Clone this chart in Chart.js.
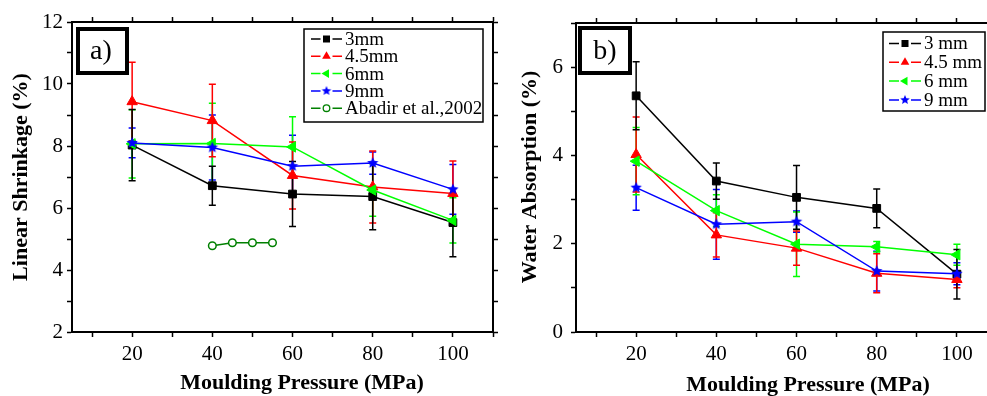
<!DOCTYPE html>
<html><head><meta charset="utf-8">
<script src="https://cdn.jsdelivr.net/npm/chart.js@4/dist/chart.umd.min.js"></script>
<style>
html,body{margin:0;padding:0;background:#fff;overflow:hidden;width:987px;height:396px;}
#wrapA{position:absolute;left:0;top:0;width:500px;height:396px;}
#wrapB{position:absolute;left:500px;top:0;width:510px;height:396px;}
canvas{display:block;}
</style></head><body>
<div id="wrapA"><canvas id="chartA" width="500" height="396"></canvas></div>
<div id="wrapB"><canvas id="chartB" width="510" height="396"></canvas></div>
<script>
// ---------- data ----------
const pressures = [20, 40, 60, 80, 100];
const xTickLabels = [20, 40, 60, 80, 100];
const yTickLabelsA = [2, 4, 6, 8, 10, 12];
const yTickLabelsB = [0, 2, 4, 6];
const namesA = ['3mm', '4.5mm', '6mm', '9mm', 'Abadir et al.,2002'];
const namesB = ['3 mm', '4.5 mm', '6 mm', '9 mm'];

// (a) Linear shrinkage (%)
const shrink3 = [8.03, 6.72, 6.45, 6.37, 5.53];
const shrink3Err = [1.15, 0.63, 1.05, 1.07, 1.1];
const shrink45 = [9.43, 8.82, 7.05, 6.68, 6.47];
const shrink45Err = [1.27, 1.17, 1.08, 1.16, 1.05];
const shrink6 = [8.07, 8.08, 7.97, 6.58, 5.6];
const shrink6Err = [1.1, 1.3, 0.97, 0.85, 0.73];
const shrink9 = [8.1, 7.95, 7.35, 7.45, 6.6];
const shrink9Err = [0.48, 1.05, 1.0, 0.36, 0.8];
const abadirPressure = [40, 45, 50, 55];
const abadirShrink = [4.78, 4.88, 4.88, 4.88];

// (b) Water absorption (%)
const water3 = [5.35, 3.42, 3.05, 2.8, 1.31];
const water3Err = [0.77, 0.41, 0.72, 0.44, 0.56];
const water45 = [4.02, 2.2, 1.9, 1.33, 1.19];
const water45Err = [0.85, 0.5, 0.39, 0.44, 0.19];
const water6 = [3.87, 2.75, 1.99, 1.93, 1.75];
const water6Err = [0.76, 0.36, 0.73, 0.12, 0.24];
const water9 = [3.27, 2.44, 2.5, 1.38, 1.32];
const water9Err = [0.51, 0.79, 0.24, 0.45, 0.25];

// ---------- styles ----------
const FONT = "'Liberation Serif','Times New Roman',serif";
const COLORS = ['#000000', '#FF0000', '#00FF00', '#0000FF', '#008000'];

function makeStar(color, R) {
  const s = Math.ceil(R * 2 + 2);
  const c = document.createElement('canvas'); c.width = s; c.height = s;
  const g = c.getContext('2d'); g.fillStyle = color; g.beginPath();
  for (let i = 0; i < 10; i++) {
    const r = (i % 2) ? R * 0.45 : R;
    const a = -Math.PI / 2 + i * Math.PI / 5;
    g.lineTo(s / 2 + r * Math.cos(a), s / 2 + r * Math.sin(a));
  }
  g.closePath(); g.fill();
  return c;
}
const starBig = makeStar('#0000FF', 6);
const starSmall = makeStar('#0000FF', 5);

function pts(xs, ys) { return xs.map((x, i) => ({x: x, y: ys[i]})); }

function series(label, xs, ys, errs, idx, style) {
  const ds = {
    label: label, data: pts(xs, ys), errors: errs,
    borderColor: COLORS[idx], backgroundColor: COLORS[idx],
    pointBorderColor: COLORS[idx], pointBackgroundColor: COLORS[idx],
    borderWidth: 1.5, tension: 0, fill: false, order: 10 - idx,
    pointRadius: 5.5, pointBorderWidth: 1, pointRotation: 0
  };
  if (style === 'rect') { ds.pointStyle = 'rect'; ds.pointRadius = 5.5; }
  if (style === 'tri') { ds.pointStyle = 'triangle'; ds.pointRadius = 6; }
  if (style === 'ltri') { ds.pointStyle = 'triangle'; ds.pointRadius = 6; ds.pointRotation = -90; }
  if (style === 'star') { ds.pointStyle = starBig; ds.pointRadius = 6; }
  if (style === 'circ') { ds.pointStyle = 'circle'; ds.pointRadius = 3.8; ds.pointBackgroundColor = '#ffffff'; ds.pointBorderWidth = 1.5; }
  ds._mk = style;
  return ds;
}

// ---------- plugins ----------
const errorBars = {
  id: 'errorBars',
  beforeDatasetsDraw(chart) {
    const ctx = chart.ctx, ys = chart.scales.y;
    for (let i = chart.data.datasets.length - 1; i >= 0; i--) {
      const ds = chart.data.datasets[i];
      if (!ds.errors) continue;
      const meta = chart.getDatasetMeta(i);
      ctx.save(); ctx.strokeStyle = ds.borderColor; ctx.lineWidth = 1.5;
      meta.data.forEach((pt, j) => {
        const v = ds.data[j].y, e = ds.errors[j];
        const yT = ys.getPixelForValue(v + e), yB = ys.getPixelForValue(v - e);
        ctx.beginPath();
        ctx.moveTo(pt.x, yT); ctx.lineTo(pt.x, yB);
        ctx.moveTo(pt.x - 3.5, yT); ctx.lineTo(pt.x + 3.5, yT);
        ctx.moveTo(pt.x - 3.5, yB); ctx.lineTo(pt.x + 3.5, yB);
        ctx.stroke();
      });
      ctx.restore();
    }
  }
};

function drawMarker(ctx, mk, color, x, y) {
  ctx.save();
  ctx.fillStyle = color; ctx.strokeStyle = color; ctx.lineWidth = 1.3;
  if (mk === 'rect') { ctx.fillRect(x - 3.5, y - 3.5, 7, 7); }
  else if (mk === 'tri') { const r = 5; ctx.beginPath(); ctx.moveTo(x, y - r); ctx.lineTo(x + r * 0.866, y + r * 0.5); ctx.lineTo(x - r * 0.866, y + r * 0.5); ctx.closePath(); ctx.fill(); }
  else if (mk === 'ltri') { const r = 5; ctx.beginPath(); ctx.moveTo(x - r, y); ctx.lineTo(x + r * 0.5, y - r * 0.866); ctx.lineTo(x + r * 0.5, y + r * 0.866); ctx.closePath(); ctx.fill(); }
  else if (mk === 'star') { ctx.drawImage(starSmall, x - starSmall.width / 2, y - starSmall.height / 2); }
  else if (mk === 'circ') { ctx.beginPath(); ctx.arc(x, y, 3.3, 0, Math.PI * 2); ctx.fillStyle = '#fff'; ctx.fill(); ctx.stroke(); }
  ctx.restore();
}

function makeDecor(cfg) {
  return {
    id: 'decor',
    afterDraw(chart) {
      const ctx = chart.ctx;
      ctx.save();
      // panel label box
      const b = cfg.labelBox;
      ctx.fillStyle = '#fff'; ctx.fillRect(b[0], b[1], b[2], b[3]);
      ctx.lineWidth = 4; ctx.strokeStyle = '#000'; ctx.strokeRect(b[0], b[1], b[2], b[3]);
      ctx.fillStyle = '#000'; ctx.font = '28px ' + FONT; ctx.textAlign = 'center'; ctx.textBaseline = 'middle';
      ctx.fillText(cfg.label, cfg.labelPos[0], cfg.labelPos[1]);
      // legend
      const L = cfg.legend;
      ctx.fillStyle = '#fff'; ctx.fillRect(L.box[0], L.box[1], L.box[2], L.box[3]);
      ctx.lineWidth = 1.5; ctx.strokeStyle = '#000'; ctx.strokeRect(L.box[0], L.box[1], L.box[2], L.box[3]);
      ctx.font = L.font + 'px ' + FONT; ctx.textAlign = 'left'; ctx.textBaseline = 'middle';
      chart.data.datasets.forEach((ds, i) => {
        const y = L.y0 + i * L.step;
        const cx = (L.x0 + L.x1) / 2;
        ctx.strokeStyle = ds.borderColor; ctx.lineWidth = 1.5;
        ctx.beginPath(); ctx.moveTo(L.x0, y); ctx.lineTo(cx - 6, y); ctx.moveTo(cx + 6, y); ctx.lineTo(L.x1, y); ctx.stroke();
        drawMarker(ctx, ds._mk, ds.borderColor, cx, y);
        ctx.fillStyle = '#000';
        ctx.fillText(ds.label, L.tx, y + 1);
      });
      // axis titles
      ctx.fillStyle = '#000'; ctx.font = 'bold 22px ' + FONT; ctx.textAlign = 'center'; ctx.textBaseline = 'middle';
      ctx.fillText(cfg.xTitle, cfg.xTitlePos[0], cfg.xTitlePos[1]);
      ctx.translate(cfg.yTitlePos[0], cfg.yTitlePos[1]); ctx.rotate(-Math.PI / 2);
      ctx.fillText(cfg.yTitle, 0, 0);
      ctx.restore();
    }
  };
}

function buildOptions(p) {
  const tickFont = {family: FONT, size: 21};
  const grid = {drawOnChartArea: false, drawTicks: true, tickLength: 5, tickWidth: 1.5, tickColor: '#000', offset: false};
  const border = {display: true, color: '#000', width: 2};
  const xt = {stepSize: 10, includeBounds: false, autoSkip: false, maxRotation: 0, color: '#000', font: tickFont};
  const yt = {stepSize: 1, includeBounds: false, autoSkip: false, color: '#000', font: tickFont};
  return {
    responsive: false, animation: false, devicePixelRatio: 1,
    layout: {padding: {left: 0, right: p.padRight, top: p.padTop, bottom: 0}},
    plugins: {legend: {display: false}, tooltip: {enabled: false}},
    scales: {
      x: {type: 'linear', position: 'bottom', min: 5, max: 110, grid: grid, border: border,
          ticks: Object.assign({}, xt, {padding: 5, callback: v => xTickLabels.includes(v) ? String(v) : ''}),
          afterFit: s => { s.height = p.xHeight; }},
      x2: {type: 'linear', position: 'top', min: 5, max: 110, grid: grid, border: border,
          ticks: Object.assign({}, xt, {callback: () => ''}),
          afterFit: s => { s.height = 5; }},
      y: {type: 'linear', position: 'left', min: p.yMin, max: p.yMax, grid: grid, border: border,
          ticks: Object.assign({}, yt, {padding: p.yPad, callback: v => p.yLabels.includes(v) ? String(v) : ''}),
          afterFit: s => { s.width = p.yWidth; }},
      y2: {type: 'linear', position: 'right', min: p.yMin, max: p.yMax, grid: grid, border: border,
          ticks: Object.assign({}, yt, {callback: () => ''}),
          afterFit: s => { s.width = 5; }}
    }
  };
}

// ---------- chart (a) ----------
new Chart(document.getElementById('chartA'), {
  type: 'line',
  data: {datasets: [
    series(namesA[0], pressures, shrink3, shrink3Err, 0, 'rect'),
    series(namesA[1], pressures, shrink45, shrink45Err, 1, 'tri'),
    series(namesA[2], pressures, shrink6, shrink6Err, 2, 'ltri'),
    series(namesA[3], pressures, shrink9, shrink9Err, 3, 'star'),
    series(namesA[4], abadirPressure, abadirShrink, null, 4, 'circ')
  ]},
  options: buildOptions({padRight: 2, padTop: 17, xHeight: 64, yWidth: 72, yPad: 4, yMin: 2, yMax: 12, yLabels: yTickLabelsA}),
  plugins: [errorBars, makeDecor({
    label: 'a)', labelBox: [78, 29, 49, 44], labelPos: [101, 52],
    legend: {box: [304, 29, 179, 93], x0: 311, x1: 342, tx: 345, y0: 39, step: 17.3, font: 19},
    xTitle: 'Moulding Pressure (MPa)', xTitlePos: [302, 383],
    yTitle: 'Linear Shrinkage (%)', yTitlePos: [21, 177]
  })]
});

// ---------- chart (b) ----------
new Chart(document.getElementById('chartB'), {
  type: 'line',
  data: {datasets: [
    series(namesB[0], pressures, water3, water3Err, 0, 'rect'),
    series(namesB[1], pressures, water45, water45Err, 1, 'tri'),
    series(namesB[2], pressures, water6, water6Err, 2, 'ltri'),
    series(namesB[3], pressures, water9, water9Err, 3, 'star')
  ]},
  options: buildOptions({padRight: 8, padTop: 18, xHeight: 64, yWidth: 76, yPad: 8, yMin: 0, yMax: 7, yLabels: yTickLabelsB}),
  plugins: [errorBars, makeDecor({
    label: 'b)', labelBox: [80, 28, 50, 45], labelPos: [105, 52],
    legend: {box: [383, 32, 102, 79], x0: 389, x1: 421, tx: 424, y0: 43.5, step: 18.8, font: 19},
    xTitle: 'Moulding Pressure (MPa)', xTitlePos: [308, 385],
    yTitle: 'Water Absorption (%)', yTitlePos: [30, 177]
  })]
});
</script>
</body></html>
